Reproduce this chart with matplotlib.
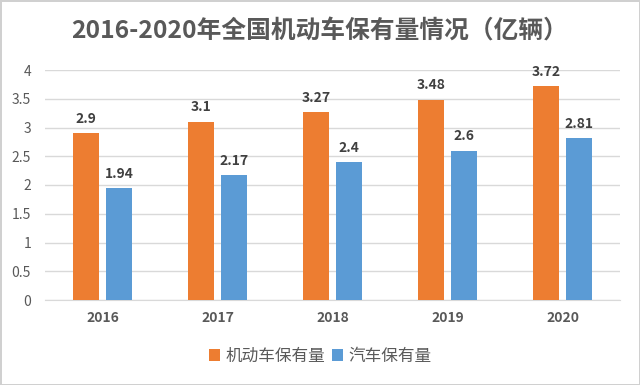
import numpy as np
import matplotlib.pyplot as plt

plt.rcParams['font.family'] = ['Noto Sans CJK SC', 'DejaVu Sans']

years = ["2016", "2017", "2018", "2019", "2020"]
motor = [2.9, 3.1, 3.27, 3.48, 3.72]
cars = [1.94, 2.17, 2.4, 2.6, 2.81]
motor_label = "机动车保有量"
car_label = "汽车保有量"
title = "2016-2020年全国机动车保有量情况（亿辆）"

orange = "#ED7D31"
blue = "#5B9BD5"
grey = "#595959"

fig = plt.figure(figsize=(6.4, 3.85), dpi=100)
fig.patch.set_edgecolor("#D0D0D0")
fig.patch.set_linewidth(2)
ax = fig.add_axes([45 / 640, 85 / 385, 575 / 640, 230 / 385])

x = np.arange(len(years))
w = 0.226
off = 0.144
b1 = ax.bar(x - off, motor, w, color=orange, label=motor_label, zorder=3)
b2 = ax.bar(x + off, cars, w, color=blue, label=car_label, zorder=3)

for bars, vals in ((b1, motor), (b2, cars)):
    for r, v in zip(bars, vals):
        ax.text(r.get_x() + r.get_width() / 2, v + 0.13, f"{v:g}",
                ha="center", va="bottom", fontsize=10, fontweight="bold",
                color="#404040")

ax.set_xlim(-0.5, len(years) - 0.5)
ax.set_ylim(0, 4)
ax.set_yticks(np.arange(0, 4.01, 0.5))
ax.set_yticklabels([f"{t:g}" for t in np.arange(0, 4.01, 0.5)])
ax.set_xticks(x)
ax.set_xticklabels(years, fontweight="bold")
ax.tick_params(axis="both", length=0, colors=grey, labelsize=10)
ax.tick_params(axis="x", pad=8)
ax.tick_params(axis="y", pad=10)
ax.grid(axis="y", color="#D9D9D9", linewidth=1, zorder=0)
for s in ["top", "right", "left"]:
    ax.spines[s].set_visible(False)
ax.spines["bottom"].set_color("#D9D9D9")

fig.text(0.5, 0.918, title, ha="center", va="center", fontsize=17.8,
         fontweight="bold", color=grey)

leg = fig.legend(loc="center", bbox_to_anchor=(0.5, 0.075), ncol=2,
                 frameon=False, fontsize=12, handlelength=0.7,
                 handleheight=0.7, handletextpad=0.3, columnspacing=0.4)
for t in leg.get_texts():
    t.set_color(grey)

fig.savefig("out.png", dpi=100)
